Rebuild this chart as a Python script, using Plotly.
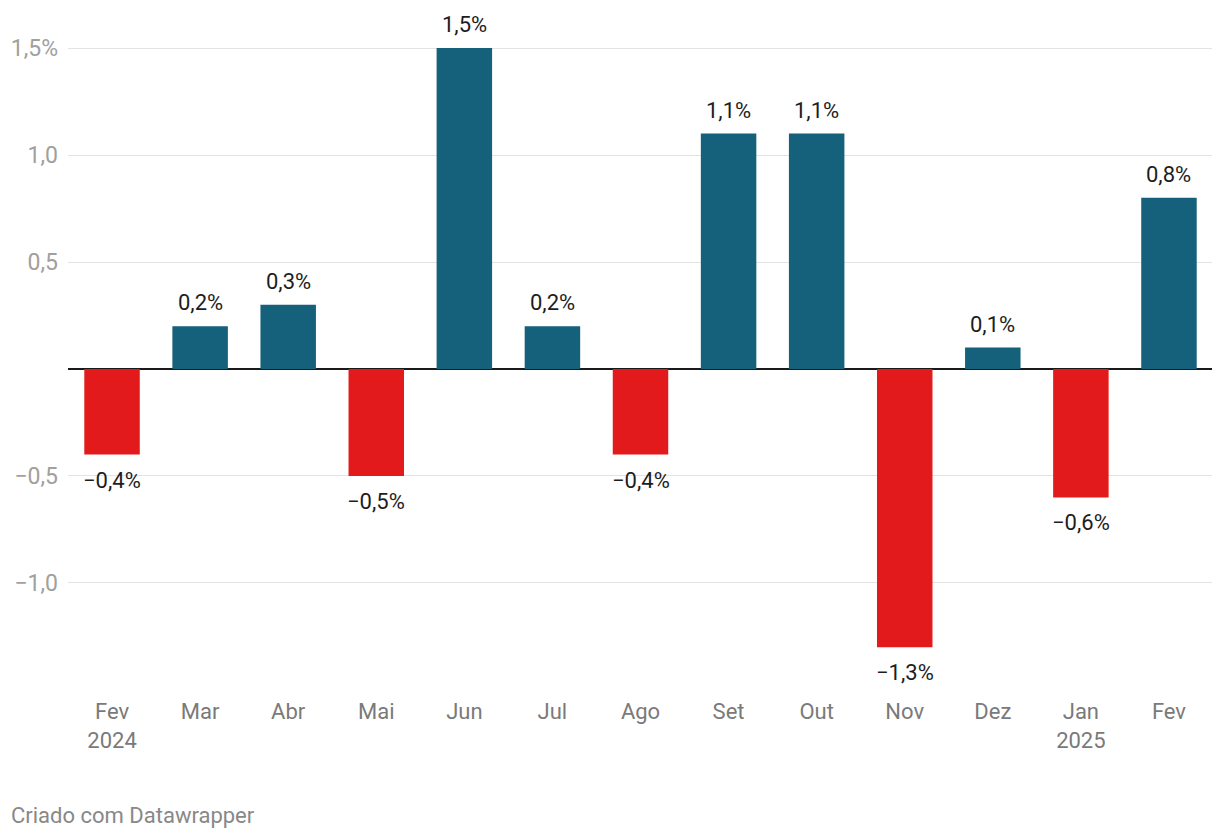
import plotly.graph_objects as go

months = ["Fev<br>2024", "Mar", "Abr", "Mai", "Jun", "Jul", "Ago", "Set", "Out", "Nov", "Dez", "Jan<br>2025", "Fev"]
values = [-0.4, 0.2, 0.3, -0.5, 1.5, 0.2, -0.4, 1.1, 1.1, -1.3, 0.1, -0.6, 0.8]
ytick_vals = [-1.0, -0.5, 0.5, 1.0, 1.5]
ytick_text = ["\u22121,0", "\u22120,5", "0,5", "1,0", "1,5%"]

BLUE = "#15607a"
RED = "#e31a1c"

def fmt(v):
    s = f"{abs(v):.1f}".replace(".", ",") + "%"
    return ("\u2212" + s) if v < 0 else s

x = list(range(len(months)))
colors = [RED if v < 0 else BLUE for v in values]

fig = go.Figure()
fig.add_trace(go.Bar(
    x=x, y=values, marker=dict(color=colors, line=dict(width=0)),
    hoverinfo="skip",
))

annotations = []
for xi, v in zip(x, values):
    annotations.append(dict(
        x=xi, y=v, xref="x", yref="y", text=fmt(v), showarrow=False,
        yanchor="bottom" if v >= 0 else "top",
        yshift=9 if v >= 0 else -11,
        font=dict(family="Roboto", size=22, color="#1d1d1d"),
    ))
annotations.append(dict(
    text="Criado com Datawrapper", xref="paper", yref="paper",
    x=0, xanchor="left", y=0, yanchor="middle",
    xshift=-59, yshift=-135, showarrow=False,
    font=dict(family="Roboto", size=22, color="#888888"),
))

fig.update_layout(
    width=1220, height=838,
    margin=dict(l=60, r=15, t=22, b=166, autoexpand=False),
    paper_bgcolor="white", plot_bgcolor="white",
    bargap=0.37, showlegend=False,
    font=dict(family="Roboto", size=22, color="#888888"),
    xaxis=dict(
        tickmode="array", tickvals=x, ticktext=months,
        range=[-0.5, len(months) - 0.5],
        showgrid=False, zeroline=False, showline=False, ticks="",
        tickfont=dict(family="Roboto", size=22, color="#7a7a7a"),
        ticklabelstandoff=16, automargin=False,
    ),
    yaxis=dict(
        range=[-1.4533, 1.5841],
        tickmode="array", tickvals=ytick_vals, ticktext=ytick_text,
        showgrid=True, gridcolor="#e3e3e3", gridwidth=1,
        zeroline=True, zerolinecolor="#1a1a1a", zerolinewidth=2,
        showline=False, ticks="",
        tickfont=dict(family="Roboto", size=23, color="#a0a0a0"),
        ticklabelstandoff=9, automargin=False,
    ),
    annotations=annotations,
)

fig.write_html("out.html")
